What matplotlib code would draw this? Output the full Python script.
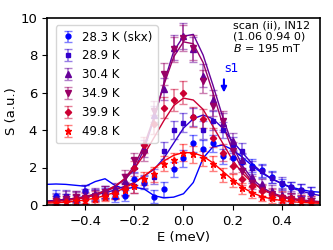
import numpy as np
import matplotlib
matplotlib.use('Agg')
import matplotlib.pyplot as plt

# energy transfer of the measured points (meV)
energy = [-0.52, -0.48, -0.44, -0.40, -0.36, -0.32, -0.28, -0.24, -0.20, -0.16,
          -0.12, -0.08, -0.04, 0.00, 0.04, 0.08, 0.12, 0.16, 0.20, 0.24,
          0.28, 0.32, 0.36, 0.40, 0.44, 0.48, 0.52]

labels = ["28.3 K (skx)", "28.9 K", "30.4 K", "34.9 K", "39.9 K", "49.8 K"]
markers = ["o", "s", "^", "v", "D", "*"]
colors = ["#0000ff", "#3300cc", "#660099", "#990066", "#cc0033", "#ff0000"]

s_283 = [0.5, 0.3, 0.25, 0.75, 0.5, 0.6, 0.45, 0.5, 1.4, 1.2,
         0.45, 0.85, 1.9, 2.5, 3.3, 3.0, 3.3, 2.6, 2.5, 2.3,
         2.1, 1.85, 1.5, 1.1, 0.95, 0.8, 0.65]
s_289 = [0.35, 0.5, 0.45, 0.75, 0.55, 0.7, 0.65, 0.85, 1.0, 1.25,
         1.5, 2.9, 4.0, 4.4, 4.7, 4.0, 4.5, 4.0, 3.2, 2.9,
         2.0, 1.8, 1.45, 1.2, 0.95, 0.8, 0.65]
s_304 = [0.3, 0.45, 0.4, 0.55, 0.6, 0.7, 0.9, 1.3, 2.1, 3.0,
         4.8, 6.2, 8.4, 9.0, 8.3, 6.9, 5.6, 4.4, 3.4, 2.4,
         1.5, 1.1, 0.75, 0.55, 0.45, 0.35, 0.3]
s_349 = [0.2, 0.3, 0.45, 0.4, 0.5, 0.7, 0.6, 1.5, 2.4, 2.8,
         5.0, 7.0, 8.3, 8.9, 8.4, 6.6, 5.3, 4.5, 2.9, 1.8,
         1.2, 0.8, 0.6, 0.4, 0.3, 0.25, 0.2]
s_399 = [0.2, 0.2, 0.3, 0.35, 0.45, 0.55, 0.65, 0.9, 1.95, 3.2,
         4.3, 5.2, 5.6, 6.0, 4.7, 4.6, 3.6, 2.8, 2.1, 1.4,
         1.0, 0.75, 0.55, 0.45, 0.35, 0.25, 0.2]
s_498 = [0.1, 0.15, 0.2, 0.2, 0.3, 0.45, 0.6, 0.8, 1.0, 1.4,
         1.65, 2.2, 2.4, 2.8, 2.7, 2.5, 2.2, 1.6, 1.3, 0.9,
         0.65, 0.45, 0.35, 0.25, 0.2, 0.15, 0.1]

err_283 = [0.3, 0.3, 0.3, 0.3, 0.3, 0.3, 0.3, 0.3, 0.35, 0.35,
           0.35, 0.4, 0.4, 0.45, 0.45, 0.45, 0.45, 0.4, 0.4, 0.4,
           0.35, 0.35, 0.3, 0.3, 0.3, 0.3, 0.3]
err_289 = [0.3, 0.3, 0.3, 0.3, 0.3, 0.3, 0.3, 0.3, 0.35, 0.35,
           0.4, 0.45, 0.5, 0.5, 0.5, 0.5, 0.5, 0.45, 0.45, 0.4,
           0.35, 0.35, 0.3, 0.3, 0.3, 0.3, 0.3]
err_304 = [0.3, 0.3, 0.3, 0.3, 0.3, 0.3, 0.3, 0.35, 0.4, 0.45,
           0.5, 0.6, 0.65, 0.7, 0.65, 0.6, 0.55, 0.5, 0.45, 0.4,
           0.35, 0.3, 0.3, 0.3, 0.3, 0.3, 0.3]
err_349 = [0.3, 0.3, 0.3, 0.3, 0.3, 0.3, 0.3, 0.35, 0.4, 0.45,
           0.55, 0.6, 0.65, 0.7, 0.65, 0.6, 0.55, 0.5, 0.45, 0.4,
           0.35, 0.3, 0.3, 0.3, 0.3, 0.3, 0.3]
err_399 = [0.3, 0.3, 0.3, 0.3, 0.3, 0.3, 0.3, 0.35, 0.4, 0.45,
           0.5, 0.55, 0.6, 0.6, 0.55, 0.5, 0.5, 0.45, 0.4, 0.35,
           0.3, 0.3, 0.3, 0.3, 0.3, 0.3, 0.3]
err_498 = [0.25, 0.25, 0.25, 0.25, 0.25, 0.25, 0.3, 0.3, 0.35, 0.35,
           0.4, 0.4, 0.4, 0.45, 0.45, 0.4, 0.4, 0.35, 0.35, 0.3,
           0.3, 0.25, 0.25, 0.25, 0.25, 0.25, 0.25]

# fitted curves
energy_fit = [-0.56, -0.52, -0.48, -0.44, -0.40, -0.36, -0.32, -0.28, -0.24, -0.20,
              -0.16, -0.12, -0.08, -0.04, 0.00, 0.04, 0.08, 0.12, 0.16, 0.20,
              0.24, 0.28, 0.32, 0.36, 0.40, 0.44, 0.48, 0.52, 0.56]
fit_283 = [1.1, 1.12, 1.1, 1.05, 1.0, 1.25, 1.4, 1.05, 0.85, 0.95,
           0.85, 0.5, 0.38, 0.42, 0.6, 1.2, 2.5, 3.1, 3.2, 2.95,
           2.55, 2.1, 1.7, 1.4, 1.15, 0.95, 0.82, 0.72, 0.68]
fit_289 = [0.2, 0.25, 0.3, 0.35, 0.45, 0.55, 0.65, 0.8, 1.0, 1.2,
           1.55, 1.9, 2.5, 3.3, 4.1, 4.6, 4.8, 4.6, 4.1, 3.4,
           2.8, 2.2, 1.75, 1.4, 1.15, 0.9, 0.75, 0.6, 0.5]
fit_304 = [0.2, 0.25, 0.3, 0.35, 0.45, 0.6, 0.75, 1.0, 1.35, 1.9,
           3.0, 4.6, 6.5, 8.2, 9.0, 9.1, 8.0, 6.4, 4.7, 3.2,
           2.1, 1.4, 0.95, 0.65, 0.48, 0.36, 0.28, 0.22, 0.18]
fit_349 = [0.15, 0.2, 0.25, 0.3, 0.4, 0.52, 0.7, 0.95, 1.4, 2.1,
           3.2, 4.7, 6.4, 7.9, 8.7, 8.6, 7.6, 6.0, 4.3, 2.9,
           1.9, 1.25, 0.85, 0.58, 0.42, 0.3, 0.22, 0.17, 0.14]
fit_399 = [0.15, 0.2, 0.25, 0.32, 0.42, 0.55, 0.75, 1.0, 1.4, 1.95,
           2.7, 3.6, 4.5, 5.3, 5.7, 5.6, 5.1, 4.2, 3.3, 2.4,
           1.7, 1.2, 0.85, 0.6, 0.45, 0.33, 0.26, 0.2, 0.16]
fit_498 = [0.1, 0.12, 0.15, 0.2, 0.27, 0.37, 0.5, 0.68, 0.9, 1.2,
           1.55, 1.95, 2.35, 2.65, 2.8, 2.78, 2.6, 2.25, 1.8, 1.35,
           0.95, 0.65, 0.45, 0.32, 0.24, 0.18, 0.14, 0.11, 0.09]

data = [s_283, s_289, s_304, s_349, s_399, s_498]
errs = [err_283, err_289, err_304, err_349, err_399, err_498]
fits = [fit_283, fit_289, fit_304, fit_349, fit_399, fit_498]
sizes = [3.5, 3.5, 3.8, 3.8, 3.2, 4.5]

fig = plt.figure(figsize=(3.33, 2.5), dpi=100)
ax = fig.add_axes([0.141, 0.18, 0.82, 0.75])

for i in range(len(labels)):
    ax.plot(energy_fit, fits[i], color=colors[i], lw=1.0)
    eb = ax.errorbar(energy, data[i], yerr=errs[i], fmt=markers[i], color=colors[i],
                     ms=sizes[i], capsize=3, elinewidth=1.2, label=labels[i])
    for part in eb[1] + eb[2]:
        part.set_alpha(0.5)

ax.annotate("", xy=(0.165, 5.85), xytext=(0.165, 6.85),
            arrowprops=dict(arrowstyle="-|>", color="blue", lw=1.5, mutation_scale=8))
ax.text(0.168, 7.3, "s1", color="blue", fontsize=9, va="center", ha="left")

ax.text(0.2, 9.85, "scan (ii), IN12\n(1.06 0.94 0)\n$B$ = 195 mT", fontsize=8,
        va="top", ha="left", linespacing=1.1)

ax.set_xlim(-0.557, 0.557)
ax.set_ylim(0, 10)
ax.set_xticks([-0.4, -0.2, 0.0, 0.2, 0.4])
ax.set_yticks([0, 2, 4, 6, 8, 10])
ax.tick_params(labelsize=9.5)
ax.set_xlabel("E (meV)", fontsize=9.5, labelpad=2)
ax.set_ylabel("S (a.u.)", fontsize=9.5, labelpad=2)
for sp in ax.spines.values():
    sp.set_linewidth(1.2)

ax.legend(loc="upper left", fontsize=8.5, handlelength=1.2, handletextpad=0.6,
          labelspacing=0.5, borderpad=0.45, bbox_to_anchor=(0.01, 0.99))

fig.savefig("out.png", dpi=100)
